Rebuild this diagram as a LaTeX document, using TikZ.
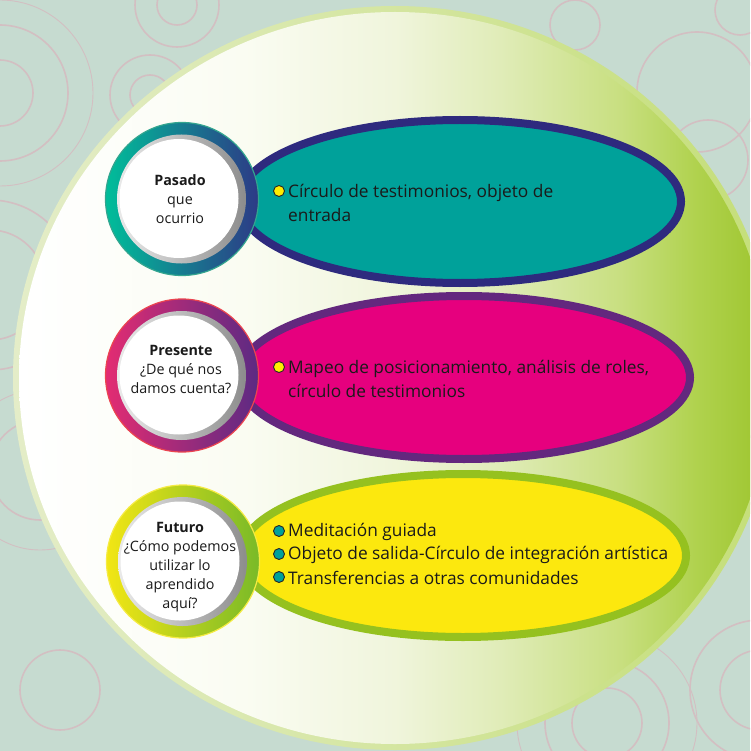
\documentclass[tikz,border=0pt]{standalone}
\usepackage{fontspec}
\setmainfont{Open Sans}
\usetikzlibrary{shapes.geometric}
\definecolor{bg}{HTML}{C6DBD0}
\definecolor{deco}{HTML}{D3BFC2}
\definecolor{txt}{HTML}{1A1A1A}
\definecolor{gA}{HTML}{FAFCF2}
\definecolor{gB}{HTML}{F0F5DC}
\definecolor{gC}{HTML}{E0ECB8}
\definecolor{gD}{HTML}{C8DF80}
\definecolor{gE}{HTML}{B0D24E}
\definecolor{gF}{HTML}{9CC42C}
\definecolor{rimL}{HTML}{E4EDC8}
\definecolor{rimR}{HTML}{C4DE78}
\definecolor{tealF}{HTML}{00A19A}
\definecolor{tealS}{HTML}{2E2A7E}
\definecolor{magF}{HTML}{E6007E}
\definecolor{magS}{HTML}{63287E}
\definecolor{yelF}{HTML}{FCE80E}
\definecolor{yelS}{HTML}{95C11F}
\definecolor{r1L}{HTML}{00BE9A}
\definecolor{r1R}{HTML}{2D3A86}
\definecolor{r2L}{HTML}{E32C72}
\definecolor{r2R}{HTML}{5C2A83}
\definecolor{r3L}{HTML}{F2E614}
\definecolor{r3R}{HTML}{79BA28}
\definecolor{bulY}{HTML}{FFED00}
\definecolor{bulT}{HTML}{00A19A}
\pgfdeclarehorizontalshading{bigshade}{100bp}{color(0bp)=(white); color(25bp)=(white); color(40bp)=(gA); color(50bp)=(gB); color(57bp)=(gC); color(65bp)=(gD); color(70bp)=(gE); color(75bp)=(gF); color(100bp)=(gF)}
\tikzset{
  decoc/.style={draw=deco, line width=1.6},
  bigell/.style={ellipse, line width=8, inner sep=0, minimum width=442, minimum height=163},
  ringc/.style={circle, inner sep=0, minimum size=153, line width=1.2},
  greyc/.style={circle, inner sep=0, minimum size=129, left color=white!92!black, right color=black!45},
  whitec/.style={circle, inner sep=0, minimum size=119, fill=white},
  ctext/.style={align=center, font=\fontsize{14.3}{19}\selectfont, text=txt, inner sep=0},
  ltext/.style={align=left, font=\fontsize{17.3}{23.5}\selectfont, text=txt, inner sep=0, anchor=west},
  bul/.style={circle, draw=black!85, line width=0.9, minimum size=11, inner sep=0},
}
\begin{document}
\begin{tikzpicture}[x=1pt, y=-1pt]
\path[use as bounding box] (0,0) rectangle (750,751);
\begin{scope}
\clip (0,0) rectangle (750,751);
\fill[bg] (0,0) rectangle (750,751);
% decorative circles
\draw[decoc] (0,93) circle[radius=33];
\draw[decoc] (0,93) circle[radius=68];
\draw[decoc, line width=0.9] (0,93) circle[radius=93];
\draw[decoc] (177,5) circle[radius=20];
\draw[decoc] (177,5) circle[radius=42];
\draw[decoc] (150,95) circle[radius=20];
\draw[decoc] (150,95) circle[radius=40];
\draw[decoc] (-10,285) circle[radius=55];
\draw[decoc] (-10,285) circle[radius=85];
\draw[decoc] (575,25) circle[radius=25];
\draw[decoc] (697,92) circle[radius=60];
\draw[decoc] (708,160) circle[radius=40];
\draw[decoc] (740,10) circle[radius=25];
\draw[decoc] (40,470) circle[radius=50];
\draw[decoc, line width=0.9] (40,470) circle[radius=80];
\draw[decoc] (607,723) circle[radius=35];
\draw[decoc] (607,723) circle[radius=62];
\draw[decoc, line width=0.9] (607,723) circle[radius=90];
\draw[decoc] (760,690) circle[radius=40];
\draw[decoc] (760,690) circle[radius=70];
\draw[decoc] (720,470) circle[radius=45];
\draw[decoc] (60,690) circle[radius=40];
% big circle
\shade[left color=rimL, right color=rimR] (395,378) ellipse[x radius=382, y radius=372];
\shade[shading=bigshade] (395,378) ellipse[x radius=376, y radius=366];
\end{scope}
% ellipses
\node[bigell, draw=tealS, fill=tealF] (e1) at (460,201.5) {};
\node[bigell, draw=magS, fill=magF, minimum width=452] (e2) at (464,377.5) {};
\node[bigell, draw=yelS, fill=yelF, minimum width=446] (e3) at (463,555.5) {};
% small circles
\node[ringc, left color=r1L, right color=r1R, draw=r1L!60!gray] (c1) at (182,199) {};
\node[greyc] (g1) at (181.5,199) {};
\node[whitec] (w1) at (179,198.5) {};
\node[ringc, left color=r2L, right color=r2R, draw=r2L!70!orange] (c2) at (182,375.5) {};
\node[greyc] (g2) at (181.5,375.5) {};
\node[whitec] (w2) at (179,375) {};
\node[ringc, left color=r3L, right color=r3R, draw=r3L!80!white] (c3) at (183,561.5) {};
\node[greyc] (g3) at (182.5,561.5) {};
\node[whitec] (w3) at (180,561) {};
% circle texts
\node[ctext] (t1) at (180,199) {\textbf{Pasado}\\que\\ocurrio};
\node[ctext] (t2) at (181,369) {\textbf{Presente}\\¿De qué nos\\damos cuenta?};
\node[ctext] (t3) at (180,567) {\textbf{Futuro}\\¿Cómo podemos\\utilizar lo\\aprendido\\aquí?};
% bullets and lists
\node[bul, fill=bulY] (b1) at (279,191) {};
\node[ltext] (l1) at (288,203) {Círculo de testimonios, objeto de\\entrada};
\node[bul, fill=bulY] (b2) at (279,367) {};
\node[ltext] (l2) at (288,379) {Mapeo de posicionamiento, análisis de roles,\\círculo de testimonios};
\node[bul, fill=bulT] (b3) at (279,531) {};
\node[bul, fill=bulT] (b4) at (279,554) {};
\node[bul, fill=bulT] (b5) at (279,577) {};
\node[ltext] (l3) at (288,532) {Meditación guiada};
\node[ltext] (l4) at (288,555) {Objeto de salida-Círculo de integración artística};
\node[ltext] (l5) at (288,578) {Transferencias a otras comunidades};
\end{tikzpicture}
\end{document}
